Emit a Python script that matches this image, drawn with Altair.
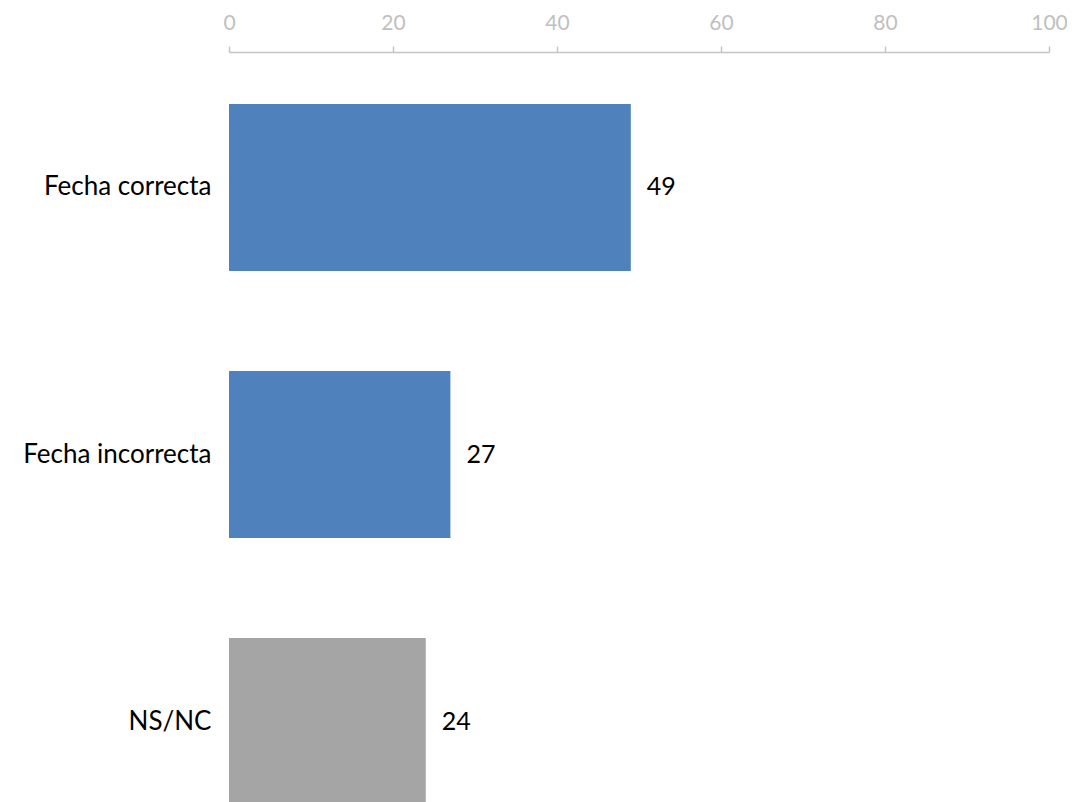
import altair as alt
import pandas as pd

categories = ["Fecha correcta", "Fecha incorrecta", "NS/NC"]
values = [49, 27, 24]
colors = ["#4F81BD", "#4F81BD", "#A5A5A5"]

df = pd.DataFrame({"cat": categories, "val": values, "color": colors})

FONT = "Lato"

y_enc = alt.Y(
    "cat:N",
    sort=categories,
    title=None,
    scale=alt.Scale(paddingInner=0.375, paddingOuter=0.0974, align=1, range=[0, 753]),
    axis=alt.Axis(
        domain=False, ticks=False, labelPadding=18, labelFontSize=26,
        labelColor="#000000", labelFont=FONT, labelLimit=400,
    ),
)

bars = alt.Chart(df).mark_bar().encode(
    x=alt.X(
        "val:Q",
        title=None,
        scale=alt.Scale(domain=[0, 100], nice=False),
        axis=alt.Axis(
            orient="top", values=[0, 20, 40, 60, 80, 100], grid=False,
            domainColor="#C4C4C4", domainWidth=1.5, tickColor="#C4C4C4", tickWidth=1.5,
            tickSize=6, labelColor="#BFBFBF", labelFontSize=21, labelFont=FONT,
            labelPadding=13, labelFlush=False,
        ),
    ),
    y=y_enc,
    color=alt.Color("color:N", scale=None),
)

text = alt.Chart(df).mark_text(
    align="left", baseline="middle", dx=16, fontSize=25, font=FONT, color="#000000"
).encode(
    x="val:Q",
    y=alt.Y("cat:N", sort=categories),
    text=alt.Text("val:Q"),
)

chart = (bars + text).properties(
    width=820, height=742,
    padding={"left": 221, "top": 44, "right": 18, "bottom": 8},
    autosize=alt.AutoSizeParams(type="none"),
).configure_view(stroke=None)

chart.save("out.html", embed_options={"renderer": "svg", "actions": False})
